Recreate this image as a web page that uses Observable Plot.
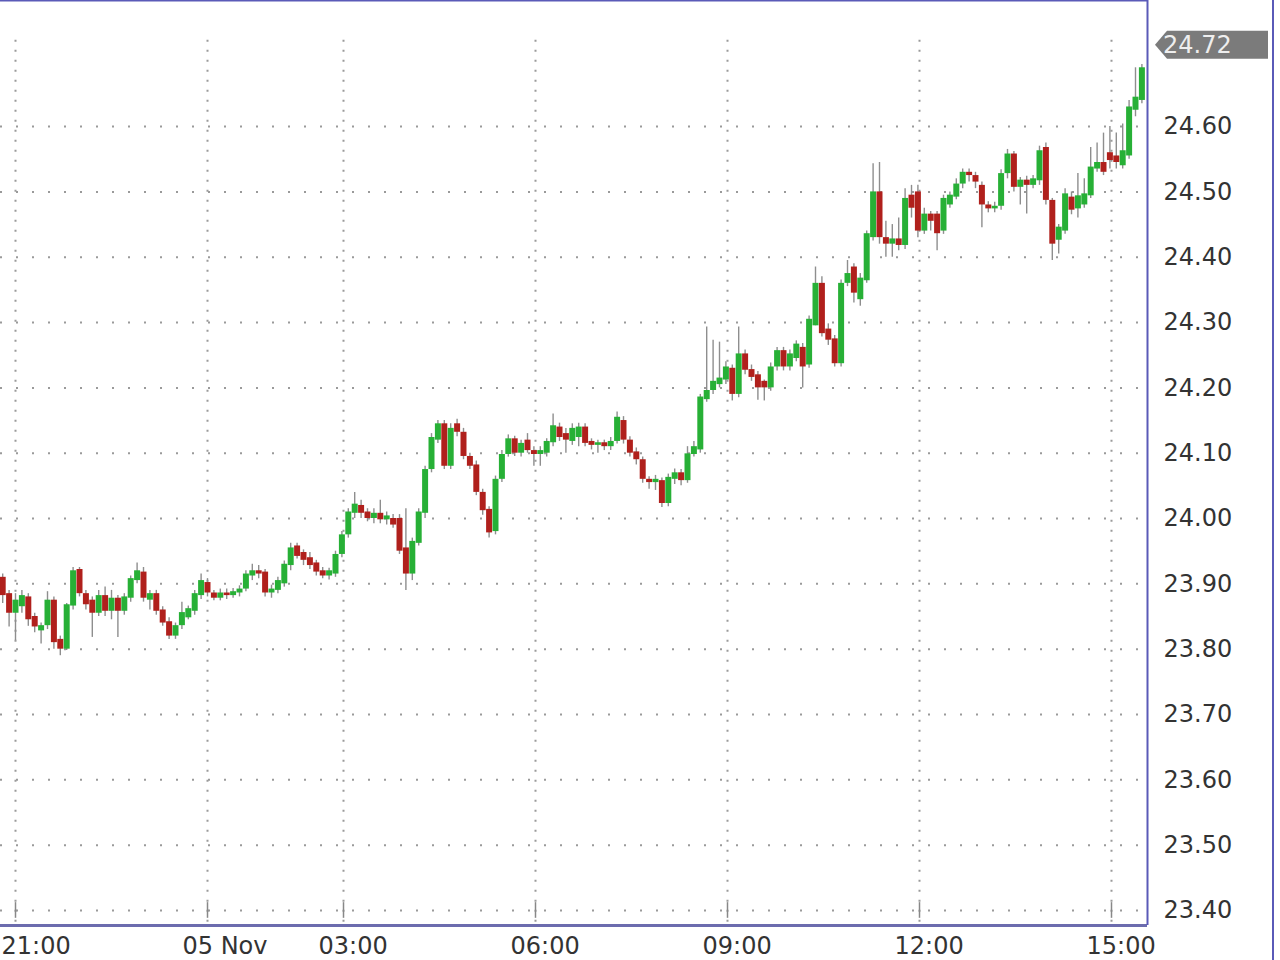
<!DOCTYPE html>
<html>
<head>
<meta charset="utf-8">
<script src="https://cdn.jsdelivr.net/npm/d3@7"></script>
<script src="https://cdn.jsdelivr.net/npm/@observablehq/plot@0.6"></script>
<style>
  html, body { margin: 0; padding: 0; background: #ffffff; }
  #chart svg { display: block; }
</style>
</head>
<body>
<div id="chart"></div>
<script>
// ---- Data (5 Nov intraday candles) ----
const firstBar = -2;           // bar index of the first (clipped) candle; 21:00 is bar 0
const open = [
  23.910,23.885,23.855,23.865,23.880,23.850,23.828,23.836,23.875,23.815,
  23.800,23.866,23.922,23.885,23.875,23.855,23.882,23.858,23.878,23.858,
  23.878,23.905,23.918,23.875,23.885,23.860,23.842,23.820,23.836,23.848,
  23.858,23.882,23.902,23.886,23.878,23.886,23.882,23.886,23.892,23.912,
  23.920,23.918,23.886,23.890,23.900,23.928,23.958,23.948,23.940,23.932,
  23.920,23.912,23.915,23.945,23.975,24.008,24.020,24.010,24.000,24.008,
  23.998,24.000,24.000,23.955,23.915,23.962,24.008,24.075,24.120,24.145,
  24.080,24.145,24.132,24.095,24.082,24.040,24.014,23.980,24.060,24.098,
  24.122,24.100,24.120,24.104,24.098,24.100,24.116,24.140,24.130,24.118,
  24.124,24.140,24.118,24.112,24.116,24.110,24.118,24.150,24.120,24.102,
  24.090,24.060,24.055,24.058,24.023,24.060,24.070,24.058,24.098,24.105,
  24.182,24.196,24.205,24.212,24.230,24.190,24.252,24.228,24.220,24.210,
  24.200,24.232,24.257,24.232,24.245,24.262,24.235,24.295,24.360,24.290,
  24.275,24.237,24.360,24.385,24.335,24.364,24.430,24.500,24.430,24.420,
  24.428,24.418,24.495,24.500,24.440,24.466,24.466,24.440,24.480,24.492,
  24.512,24.530,24.525,24.510,24.480,24.474,24.478,24.528,24.558,24.507,
  24.518,24.510,24.517,24.568,24.487,24.426,24.440,24.492,24.474,24.480,
  24.494,24.535,24.545,24.560,24.555,24.540,24.555,24.625,24.640
];
const close = [
  23.882,23.855,23.875,23.882,23.845,23.834,23.836,23.875,23.810,23.800,
  23.868,23.920,23.885,23.868,23.855,23.882,23.858,23.878,23.858,23.880,
  23.908,23.920,23.878,23.885,23.858,23.840,23.820,23.836,23.856,23.862,
  23.885,23.905,23.886,23.878,23.886,23.882,23.888,23.892,23.915,23.920,
  23.915,23.886,23.892,23.905,23.930,23.955,23.942,23.936,23.928,23.918,
  23.912,23.920,23.945,23.975,24.010,24.022,24.008,24.000,24.008,23.998,
  24.004,23.990,23.950,23.915,23.965,24.010,24.075,24.124,24.145,24.080,
  24.138,24.132,24.095,24.080,24.040,24.012,23.978,24.060,24.098,24.122,
  24.100,24.115,24.104,24.098,24.104,24.118,24.142,24.124,24.120,24.138,
  24.140,24.115,24.112,24.116,24.110,24.118,24.155,24.120,24.100,24.090,
  24.060,24.055,24.060,24.023,24.063,24.070,24.058,24.099,24.110,24.186,
  24.196,24.210,24.215,24.232,24.190,24.252,24.227,24.216,24.200,24.200,
  24.232,24.257,24.232,24.252,24.267,24.232,24.305,24.360,24.283,24.273,
  24.237,24.360,24.375,24.345,24.368,24.436,24.500,24.430,24.420,24.428,
  24.418,24.490,24.475,24.440,24.466,24.455,24.436,24.490,24.495,24.512,
  24.530,24.525,24.515,24.480,24.474,24.478,24.528,24.558,24.507,24.518,
  24.510,24.520,24.563,24.487,24.420,24.446,24.497,24.472,24.494,24.497,
  24.538,24.545,24.530,24.548,24.545,24.563,24.630,24.645,24.690
];
const high = [
  23.915,23.890,23.885,23.890,23.885,23.855,23.840,23.888,23.880,23.820,
  23.870,23.925,23.925,23.890,23.880,23.890,23.895,23.890,23.882,23.885,
  23.912,23.932,23.925,23.890,23.890,23.865,23.848,23.840,23.872,23.866,
  23.890,23.915,23.908,23.890,23.892,23.892,23.893,23.897,23.920,23.930,
  23.928,23.922,23.898,23.910,23.935,23.962,23.962,23.952,23.948,23.936,
  23.925,23.924,23.950,23.980,24.015,24.040,24.028,24.015,24.015,24.028,
  24.010,24.006,24.006,24.015,23.970,24.015,24.080,24.130,24.150,24.150,
  24.145,24.152,24.138,24.100,24.088,24.045,24.018,24.065,24.104,24.128,
  24.126,24.120,24.130,24.110,24.110,24.122,24.160,24.146,24.138,24.145,
  24.146,24.145,24.122,24.120,24.120,24.124,24.163,24.156,24.125,24.108,
  24.094,24.064,24.066,24.062,24.068,24.076,24.075,24.110,24.118,24.190,
  24.293,24.273,24.270,24.240,24.235,24.293,24.258,24.235,24.225,24.212,
  24.238,24.262,24.262,24.258,24.272,24.268,24.310,24.385,24.370,24.298,
  24.280,24.365,24.395,24.390,24.375,24.440,24.543,24.545,24.455,24.450,
  24.460,24.505,24.510,24.510,24.475,24.470,24.470,24.495,24.500,24.520,
  24.535,24.535,24.530,24.515,24.485,24.484,24.534,24.565,24.562,24.522,
  24.524,24.525,24.570,24.575,24.490,24.450,24.505,24.500,24.528,24.520,
  24.568,24.575,24.590,24.600,24.590,24.604,24.640,24.690,24.695
];
const low = [
  23.870,23.834,23.813,23.855,23.835,23.825,23.808,23.830,23.800,23.790,
  23.798,23.860,23.880,23.860,23.818,23.850,23.850,23.845,23.818,23.852,
  23.872,23.900,23.872,23.860,23.852,23.835,23.815,23.815,23.830,23.845,
  23.852,23.876,23.880,23.874,23.874,23.876,23.878,23.880,23.888,23.905,
  23.908,23.880,23.878,23.885,23.895,23.920,23.938,23.928,23.922,23.912,
  23.908,23.906,23.910,23.940,23.970,24.000,24.000,23.995,23.992,23.992,
  23.990,23.985,23.945,23.890,23.905,23.958,24.000,24.070,24.115,24.075,
  24.075,24.125,24.090,24.075,24.035,24.005,23.970,23.975,24.055,24.094,
  24.095,24.094,24.100,24.080,24.080,24.094,24.110,24.118,24.100,24.112,
  24.110,24.110,24.105,24.100,24.104,24.104,24.114,24.114,24.094,24.082,
  24.054,24.045,24.043,24.017,24.018,24.052,24.050,24.054,24.094,24.100,
  24.178,24.190,24.200,24.205,24.180,24.185,24.220,24.210,24.181,24.180,
  24.195,24.226,24.226,24.226,24.240,24.200,24.230,24.295,24.278,24.265,
  24.232,24.232,24.355,24.330,24.325,24.360,24.425,24.420,24.400,24.400,
  24.410,24.412,24.460,24.430,24.435,24.440,24.410,24.435,24.475,24.488,
  24.505,24.515,24.505,24.445,24.468,24.468,24.472,24.520,24.500,24.480,
  24.466,24.505,24.510,24.480,24.395,24.405,24.435,24.465,24.460,24.475,
  24.490,24.530,24.525,24.535,24.535,24.535,24.550,24.615,24.635
];
const lastPrice = 24.72;

// time-axis ticks (bar index positions) and their labels
const xTickPos = [0, 30, 51.25, 81.25, 111.25, 141.25, 171.25];
const xTickLabels = ["21:00", "05 Nov", "03:00", "06:00", "09:00", "12:00", "15:00"];
// price-axis ticks
const yTicks = [23.4, 23.5, 23.6, 23.7, 23.8, 23.9, 24.0, 24.1, 24.2, 24.3, 24.4, 24.5, 24.6];

// ---- build table ----
const candles = open.map((o, k) => ({
  i: firstBar + k, o, c: close[k], h: high[k], l: low[k]
}));
const labelOf = new Map(xTickPos.map((p, k) => [p, xTickLabels[k]]));

const GREEN = "#27b036";
const RED = "#b0201c";
const WICK = "#8e8e8e";
const GRID = "#9a9a9a";
const FRAME = "#5a5ab8";
const FONT = "DejaVu Sans, Verdana, sans-serif";

const xDomain = [-2.344, 176.875];
const yDomain = [23.377, 24.793];

const chart = Plot.plot({
  width: 1280,
  height: 960,
  marginLeft: 0,
  marginRight: 133,
  marginTop: 0,
  marginBottom: 35,
  style: { background: "#ffffff", fontFamily: FONT, color: "#333333", overflow: "visible" },
  x: { type: "linear", domain: xDomain, axis: null },
  y: { type: "linear", domain: yDomain, axis: null },
  marks: [
    // dotted horizontal grid
    Plot.ruleY(yTicks, { stroke: GRID, strokeWidth: 2, strokeDasharray: "2,14" }),
    // dotted vertical grid
    Plot.ruleX(xTickPos, { y1: 24.732, y2: yDomain[0], stroke: GRID, strokeWidth: 2, strokeDasharray: "2,8" }),
    // short solid tick marks at the foot of the vertical grid lines
    Plot.ruleX(xTickPos, { y1: 23.388, y2: 23.412, stroke: "#888888", strokeWidth: 1.5 }),
    // wicks
    Plot.ruleX(candles, { x: "i", y1: "l", y2: "h", stroke: WICK, strokeWidth: 1.4 }),
    // bodies
    Plot.ruleX(candles, {
      x: "i", y1: "o", y2: "c",
      stroke: d => (d.c >= d.o ? GREEN : RED),
      strokeWidth: 6
    }),
    // frame: bottom, right, top
    Plot.ruleY([yDomain[0]], { stroke: "#6c6cae", strokeWidth: 3 }),
    Plot.ruleX([xDomain[1]], { stroke: FRAME, strokeWidth: 2 }),
    Plot.ruleY([yDomain[1]], { stroke: FRAME, strokeWidth: 2 }),
    // axes
    Plot.axisY(yTicks, {
      anchor: "right", tickSize: 0, tickPadding: 16, textAnchor: "start",
      tickFormat: d3.format(".2f"), fontSize: 24, fill: "#333333", label: null
    }),
    // first time label sits against the left edge
    Plot.axisX(xTickPos.slice(0, 1), {
      anchor: "bottom", tickSize: 0, tickPadding: 11, textAnchor: "start", dx: -14,
      tickFormat: d => labelOf.get(d), fontSize: 24, fill: "#333333", label: null
    }),
    Plot.axisX(xTickPos.slice(1), {
      anchor: "bottom", tickSize: 0, tickPadding: 11, textAnchor: "start", dx: -25,
      tickFormat: d => labelOf.get(d), fontSize: 24, fill: "#333333", label: null
    })
  ]
});

document.getElementById("chart").appendChild(chart);

// ---- last-price tag placed through the y scale ----
const svg = d3.select(chart);
const yPix = chart.scale("y").apply(lastPrice) - 3;
const xL = chart.scale("x").apply(xDomain[1]);
const tag = svg.append("g");
tag.append("path")
  .attr("d", `M${xL + 8},${yPix} L${xL + 20},${yPix - 14} L${xL + 121},${yPix - 14} L${xL + 121},${yPix + 14} L${xL + 20},${yPix + 14} Z`)
  .attr("fill", "#7b7b7b");
tag.append("text")
  .attr("x", xL + 16).attr("y", yPix).attr("dy", "0.35em")
  .attr("text-anchor", "start")
  .attr("fill", "#eeeeee").attr("font-size", 24).attr("font-family", FONT)
  .text(d3.format(".2f")(lastPrice));
// outer right border of the panel
svg.append("line")
  .attr("x1", 1273).attr("x2", 1273).attr("y1", 0).attr("y2", 960)
  .attr("stroke", FRAME).attr("stroke-width", 2);
</script>
</body>
</html>
